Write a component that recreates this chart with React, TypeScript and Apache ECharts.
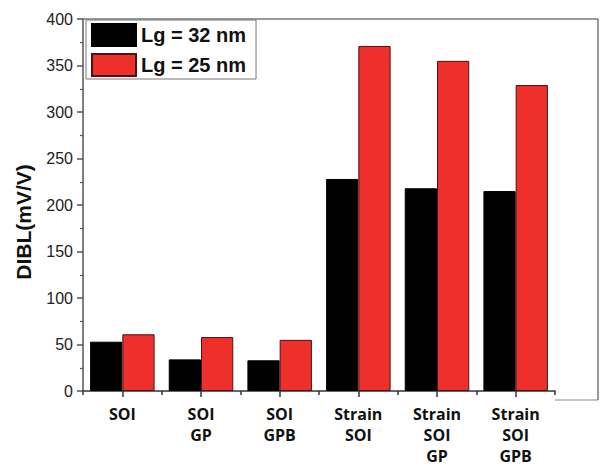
import React, { useEffect, useRef } from "react";
import * as echarts from "echarts";

const categories = ["SOI", "SOI\nGP", "SOI\nGPB", "Strain\nSOI", "Strain\nSOI\nGP", "Strain\nSOI\nGPB"];
const lg32 = [53, 34, 33, 228, 218, 215];
const lg25 = [61, 58, 55, 371, 355, 329];
const yTicks = { min: 0, max: 400, interval: 50 };

export default function App() {
  const ref = useRef<HTMLDivElement>(null);
  useEffect(() => {
    if (!ref.current) return;
    const chart = echarts.init(ref.current, undefined, { renderer: "svg" });
    const axisColor = "#555";
    chart.setOption({
      animation: false,
      backgroundColor: "#fff",
      grid: { left: 83, top: 19, right: 45, bottom: 66, containLabel: false },
      legend: {
        orient: "vertical",
        left: 86,
        top: 20,
        padding: [3, 10, 2, 5],
        itemGap: 6,
        itemWidth: 44,
        itemHeight: 22,
        icon: "rect",
        borderColor: "#777",
        borderWidth: 1,
        backgroundColor: "#fff",
        textStyle: { fontFamily: "Liberation Sans", fontWeight: "bold", fontSize: 20, color: "#111", lineHeight: 22 },
        data: ["Lg = 32 nm", "Lg = 25 nm"],
      },
      xAxis: [
        {
          type: "category",
          data: categories,
          position: "bottom",
          axisLine: { show: true, lineStyle: { color: "#333", width: 1.5 } },
          axisTick: { show: true, alignWithLabel: true, length: 6, lineStyle: { color: "#333", width: 1.5 } },
          axisLabel: {
            interval: 0,
            margin: 12,
            fontFamily: "Open Sans",
            fontWeight: "bold",
            fontSize: 16,
            lineHeight: 21,
            color: "#111",
          },
          splitLine: { show: false },
        },
        {
          type: "category",
          data: categories,
          position: "bottom",
          axisLine: { show: false },
          axisTick: { show: true, alignWithLabel: false, length: 4, lineStyle: { color: "#333", width: 1.5 } },
          axisLabel: { show: false },
          splitLine: { show: false },
        },
      ],
      yAxis: {
        type: "value",
        min: yTicks.min,
        max: yTicks.max,
        interval: yTicks.interval,
        name: "DIBL(mV/V)",
        nameLocation: "middle",
        nameRotate: 90,
        nameGap: 49,
        nameTextStyle: {
          fontFamily: "Liberation Sans",
          fontWeight: "bold",
          fontSize: 21,
          color: "#111",
          padding: [0, 34, 0, 0],
        },
        axisLine: { show: true, lineStyle: { color: axisColor, width: 1.5 } },
        axisTick: { show: true, inside: false, length: 6, lineStyle: { color: axisColor, width: 1.5 } },
        minorTick: { show: true, splitNumber: 2, length: 3, lineStyle: { color: axisColor, width: 1.2 } },
        axisLabel: { margin: 10, fontFamily: "Liberation Sans", fontSize: 16, color: "#222" },
        splitLine: { show: false },
      },
      graphic: [
        { type: "line", shape: { x1: 83, y1: 19, x2: 598, y2: 19 }, style: { stroke: "#777", lineWidth: 1.5 }, z: 10 },
        { type: "line", shape: { x1: 598, y1: 19, x2: 598, y2: 400 }, style: { stroke: "#777", lineWidth: 1.5 }, z: 10 },
        { type: "line", shape: { x1: 555, y1: 400, x2: 598, y2: 400 }, style: { stroke: "#888", lineWidth: 1.2 }, z: 10 },
      ],
      series: [
        {
          name: "Lg = 32 nm",
          type: "bar",
          data: lg32,
          barGap: "0%",
          barCategoryGap: "18%",
          itemStyle: { color: "#000", borderColor: "#000", borderWidth: 1 },
        },
        {
          name: "Lg = 25 nm",
          type: "bar",
          data: lg25,
          barGap: "0%",
          barCategoryGap: "18%",
          itemStyle: { color: "#ee2f2c", borderColor: "#4a1414", borderWidth: 1 },
        },
      ],
    });
    return () => chart.dispose();
  }, []);
  return <div ref={ref} style={{ position: "fixed", left: 0, top: 0, width: 600, height: 466 }} />;
}
